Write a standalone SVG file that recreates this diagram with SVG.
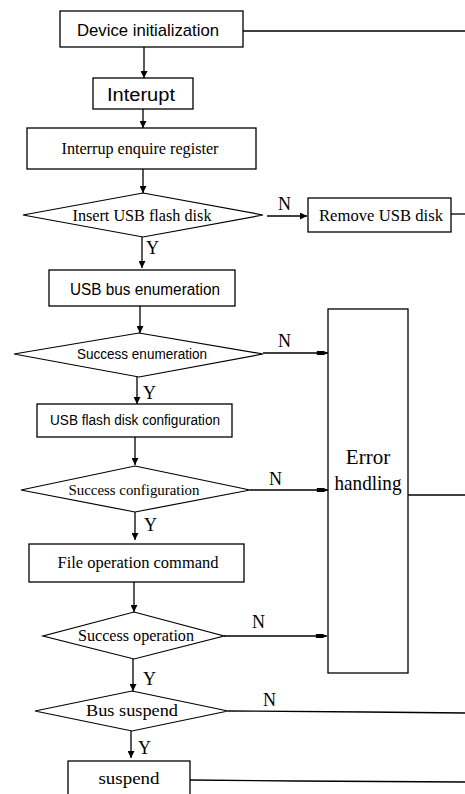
<svg xmlns="http://www.w3.org/2000/svg" width="465" height="794" viewBox="0 0 465 794">
  <style>
    .box { fill: #fff; stroke: #000; stroke-width: 1.3; }
    .dia { fill: #fff; stroke: #000; stroke-width: 1.2; }
    .ln { fill: none; stroke: #000; stroke-width: 1.3; }
    .t { font-family: "Liberation Serif", serif; fill: #000; text-anchor: middle; }
    .s { font-family: "Liberation Sans", sans-serif; fill: #000; text-anchor: middle; }
    .lbl { font-family: "Liberation Serif", serif; font-size: 18px; fill: #000; }
  </style>
  <defs>
    <marker id="ah" viewBox="0 0 10 10" refX="10" refY="5" markerWidth="7" markerHeight="7" markerUnits="userSpaceOnUse" orient="auto">
      <path d="M0,0 L10,5 L0,10 Z" fill="#000"/>
    </marker>
    <marker id="ahw" viewBox="0 0 16 10" refX="16" refY="5" markerWidth="14" markerHeight="7" markerUnits="userSpaceOnUse" orient="auto">
      <path d="M0,2 L10,2 L16,5 L10,8 L0,8 Z" fill="#000"/>
    </marker>
  </defs>

  <g id="connectors">
    <line class="ln" x1="243" y1="31" x2="465" y2="31"/>
    <line class="ln" x1="144" y1="47" x2="144" y2="78" marker-end="url(#ah)"/>
    <line class="ln" x1="143" y1="109" x2="143" y2="128" marker-end="url(#ah)"/>
    <line class="ln" x1="143" y1="169" x2="143" y2="193" marker-end="url(#ah)"/>
    <line class="ln" x1="267" y1="216" x2="307" y2="216" marker-end="url(#ah)"/>
    <line class="ln" x1="451" y1="214" x2="465" y2="214"/>
    <line class="ln" x1="142" y1="237" x2="142" y2="268" marker-end="url(#ah)"/>
    <line class="ln" x1="140" y1="306" x2="140" y2="333" marker-end="url(#ah)"/>
    <line class="ln" x1="263" y1="353" x2="328" y2="353" marker-end="url(#ahw)"/>
    <line class="ln" x1="137" y1="377" x2="137" y2="404" marker-end="url(#ah)"/>
    <line class="ln" x1="135" y1="437" x2="135" y2="465" marker-end="url(#ah)"/>
    <line class="ln" x1="250" y1="490" x2="328" y2="490" marker-end="url(#ahw)"/>
    <line class="ln" x1="135" y1="512" x2="135" y2="540" marker-end="url(#ah)"/>
    <line class="ln" x1="134" y1="582" x2="134" y2="612" marker-end="url(#ah)"/>
    <line class="ln" x1="224" y1="636" x2="327" y2="636" marker-end="url(#ahw)"/>
    <line class="ln" x1="408" y1="495" x2="465" y2="495"/>
    <line class="ln" x1="133" y1="659" x2="133" y2="691" marker-end="url(#ah)"/>
    <polyline class="ln" points="228,711 366,712 465,713"/>
    <line class="ln" x1="131" y1="731" x2="131" y2="758" marker-end="url(#ah)"/>
    <polyline class="ln" points="190,780 296,781 465,782"/>
    <text class="lbl" x="278" y="210">N</text>
    <text class="lbl" x="146" y="254">Y</text>
    <text class="lbl" x="278" y="347">N</text>
    <text class="lbl" x="143" y="399">Y</text>
    <text class="lbl" x="269" y="485">N</text>
    <text class="lbl" x="144" y="531">Y</text>
    <text class="lbl" x="252" y="628">N</text>
    <text class="lbl" x="143" y="685">Y</text>
    <text class="lbl" x="263" y="706">N</text>
    <text class="lbl" x="138" y="754">Y</text>
  </g>

  <g id="device-init">
    <rect class="box" x="60" y="11" width="183" height="36"/>
    <text class="s" x="148" y="36" font-size="17" textLength="142" lengthAdjust="spacingAndGlyphs">Device initialization</text>
  </g>
  <g id="interupt">
    <rect class="box" x="93" y="78" width="100" height="31"/>
    <text class="s" x="141" y="101" font-size="18" textLength="68" lengthAdjust="spacingAndGlyphs">Interupt</text>
  </g>
  <g id="enquire-register">
    <rect class="box" x="27" y="128" width="229" height="41"/>
    <text class="t" x="140" y="154" font-size="16" textLength="157" lengthAdjust="spacingAndGlyphs">Interrup enquire register</text>
  </g>
  <g id="insert-usb">
    <polygon class="dia" points="143,193 263,215 143,237 23,215"/>
    <text class="t" x="142" y="221" font-size="17" textLength="139" lengthAdjust="spacingAndGlyphs">Insert USB flash disk</text>
  </g>
  <g id="remove-usb">
    <rect class="box" x="308" y="198" width="143" height="34"/>
    <text class="t" x="381" y="221" font-size="16" textLength="124" lengthAdjust="spacingAndGlyphs">Remove USB disk</text>
  </g>
  <g id="bus-enumeration">
    <rect class="box" x="49" y="270" width="186" height="36"/>
    <text class="s" x="145" y="295" font-size="16" textLength="150" lengthAdjust="spacingAndGlyphs">USB bus enumeration</text>
  </g>
  <g id="success-enumeration">
    <polygon class="dia" points="139,333 263,354 139,377 14,354"/>
    <text class="s" x="142" y="359" font-size="14" textLength="130" lengthAdjust="spacingAndGlyphs">Success enumeration</text>
  </g>
  <g id="disk-configuration">
    <rect class="box" x="37" y="404" width="195" height="33"/>
    <text class="s" x="135" y="425" font-size="14" textLength="170" lengthAdjust="spacingAndGlyphs">USB flash disk configuration</text>
  </g>
  <g id="success-configuration">
    <polygon class="dia" points="135,466 250,490 135,512 21,490"/>
    <text class="t" x="134" y="495" font-size="15" textLength="131" lengthAdjust="spacingAndGlyphs">Success configuration</text>
  </g>
  <g id="file-operation">
    <rect class="box" x="29" y="544" width="215" height="38"/>
    <text class="t" x="138" y="568" font-size="16" textLength="161" lengthAdjust="spacingAndGlyphs">File operation command</text>
  </g>
  <g id="success-operation">
    <polygon class="dia" points="134,612 224,636 134,659 43,636"/>
    <text class="t" x="136" y="641" font-size="17" textLength="116" lengthAdjust="spacingAndGlyphs">Success operation</text>
  </g>
  <g id="error-handling">
    <rect class="box" x="328" y="309" width="80" height="364"/>
    <text class="t" x="368" y="464" font-size="21">Error</text>
    <text class="t" x="368" y="490" font-size="21" textLength="67" lengthAdjust="spacingAndGlyphs">handling</text>
  </g>
  <g id="bus-suspend">
    <polygon class="dia" points="132,691 228,711 132,731 35,711"/>
    <text class="t" x="132" y="716" font-size="17" textLength="92" lengthAdjust="spacingAndGlyphs">Bus suspend</text>
  </g>
  <g id="suspend">
    <rect class="box" x="68" y="761" width="122" height="40"/>
    <text class="t" x="129" y="784" font-size="16" textLength="61" lengthAdjust="spacingAndGlyphs">suspend</text>
  </g>
</svg>
